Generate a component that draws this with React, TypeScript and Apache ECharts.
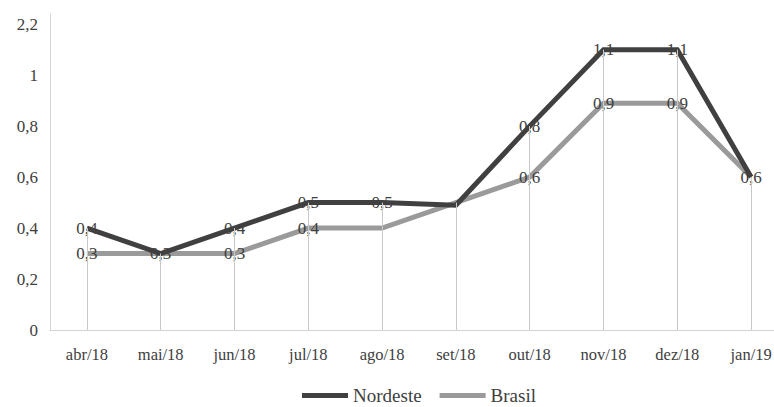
import React, { useEffect, useRef } from "react";
import * as echarts from "echarts";

const categories = ["abr/18", "mai/18", "jun/18", "jul/18", "ago/18", "set/18", "out/18", "nov/18", "dez/18", "jan/19"];
const nordeste = [0.4, 0.3, 0.4, 0.5, 0.5, 0.49, 0.8, 1.1, 1.1, 0.6];
const brasil = [0.3, 0.3, 0.3, 0.4, 0.4, 0.5, 0.6, 0.89, 0.89, 0.6];
const nordesteHiddenLabels = [1, 5];
const brasilHiddenLabels = [4, 5, 9];
const yTickValues = [0, 0.2, 0.4, 0.6, 0.8, 1, 1.2];
const yTickLabels = ["0", "0,2", "0,4", "0,6", "0,8", "1", "2,2"];

const FONT = "'Liberation Serif', serif";
const fmt = (v: number) => (Math.round(v * 10) / 10).toFixed(1).replace(".", ",");

export default function App() {
  const ref = useRef<HTMLDivElement>(null);
  useEffect(() => {
    if (!ref.current) return;
    const chart = echarts.init(ref.current, null, { renderer: "svg" });
    const mkData = (vals: number[], hidden: number[]) =>
      vals.map((v, i) => (hidden.includes(i) ? { value: v, label: { show: false } } : v));
    const drop = categories.map((c, i) => [
      { coord: [c, 0] },
      { coord: [c, Math.max(nordeste[i], brasil[i])] },
    ]);
    const labelCfg = {
      show: true,
      position: "inside",
      color: "#404040",
      fontSize: 17,
      fontFamily: FONT,
      formatter: (p: any) => fmt(p.value),
    };
    chart.setOption({
      animation: false,
      textStyle: { fontFamily: FONT },
      grid: { left: 50, top: 14, bottom: 77, right: 0 },
      xAxis: {
        type: "category",
        data: categories,
        boundaryGap: true,
        axisLine: { lineStyle: { color: "#d4d4d4", width: 1 } },
        axisTick: { show: false },
        axisLabel: { color: "#404040", fontSize: 16.5, margin: 16, fontFamily: FONT },
        splitLine: { show: false },
      },
      yAxis: {
        type: "value",
        min: 0,
        max: 1.24,
        interval: 0.2,
        axisLine: { show: true, lineStyle: { color: "#d4d4d4", width: 1 } },
        axisTick: { show: false },
        splitLine: { show: false },
        axisLabel: {
          color: "#404040",
          fontSize: 17,
          margin: 12,
          fontFamily: FONT,
          formatter: (v: number) => {
            const idx = yTickValues.findIndex((t) => Math.abs(t - v) < 1e-6);
            return idx >= 0 ? yTickLabels[idx] : "";
          },
        },
      },
      legend: {
        bottom: -3,
        left: 297,
        itemWidth: 46,
        itemHeight: 5,
        itemGap: 18,
        icon: "rect",
        textStyle: { color: "#404040", fontSize: 19, fontFamily: FONT },
        data: ["Nordeste", "Brasil"],
      },
      series: [
        {
          name: "drop",
          type: "line",
          data: [],
          z: 1,
          silent: true,
          markLine: {
            symbol: "none",
            silent: true,
            label: { show: false },
            lineStyle: { color: "#c8c8c8", width: 1, type: "solid" },
            data: drop,
          },
        },
        {
          name: "Brasil",
          type: "line",
          data: mkData(brasil, brasilHiddenLabels),
          showSymbol: true,
          symbol: "circle",
          symbolSize: 0.1,
          z: 3,
          lineStyle: { color: "#9a9a9a", width: 5, join: "miter" },
          itemStyle: { color: "#9a9a9a" },
          label: labelCfg,
        },
        {
          name: "Nordeste",
          type: "line",
          data: mkData(nordeste, nordesteHiddenLabels),
          showSymbol: true,
          symbol: "circle",
          symbolSize: 0.1,
          z: 4,
          lineStyle: { color: "#404040", width: 5, join: "miter" },
          itemStyle: { color: "#404040" },
          label: labelCfg,
        },
      ],
    });
    return () => chart.dispose();
  }, []);
  return (
    <div style={{ width: 774, height: 407, position: "absolute", left: 0, top: 0, overflow: "hidden" }}>
      <div ref={ref} style={{ width: 788, height: 407 }} />
    </div>
  );
}
